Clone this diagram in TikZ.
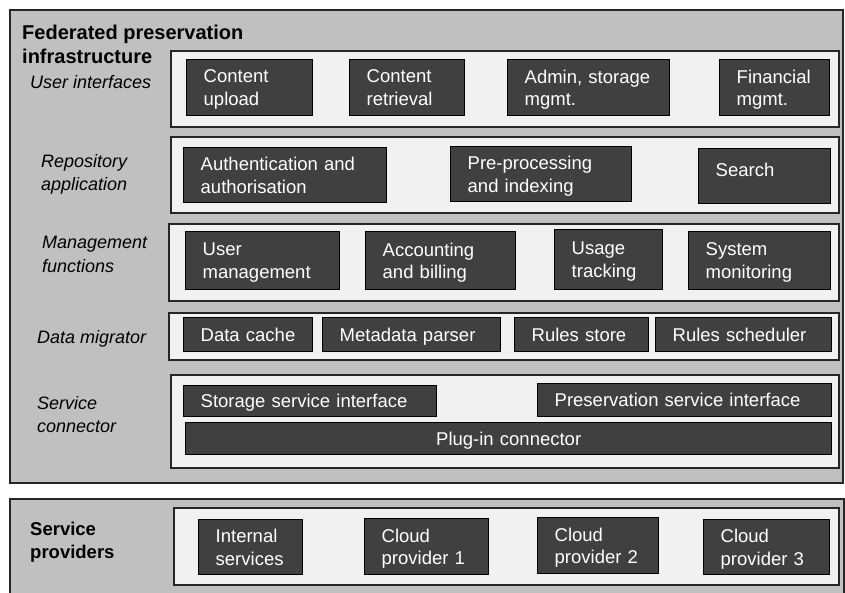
\documentclass[tikz,border=0pt]{standalone}
\usepackage{fontspec}
\setmainfont{Liberation Sans}
\definecolor{outerg}{RGB}{192,192,192}
\definecolor{bandg}{RGB}{241,241,241}
\definecolor{darkg}{RGB}{64,64,64}
\tikzset{
  dk/.style={draw=black, fill=darkg, line width=1.4pt, text=white,
    font=\fontsize{18.5}{22.5}\selectfont, align=left, inner xsep=17pt,
    inner ysep=0pt, anchor=north west, text depth=22.5pt},
  one/.style={text depth=0pt},
  bandbox/.style={draw=black!85, fill=bandg, line width=1.6pt, anchor=north west, inner sep=0pt},
  outerbox/.style={draw=black!85, fill=outerg, line width=1.8pt, anchor=north west, inner sep=0pt},
  lab/.style={font=\fontsize{18}{23.5}\selectfont\itshape, align=left, anchor=north west, inner sep=0pt},
  ttl/.style={font=\fontsize{20}{24}\selectfont\bfseries, align=left, anchor=north west, inner sep=0pt},
}
\newcommand\dbox[7][]{%
  \pgfmathsetmacro\bw{#5-#3-34}\pgfmathsetmacro\bh{#6-#4}%
  \node[dk,text width=\bw pt,minimum height=\bh pt,#1] (#2) at (#3,#4) {#7};}
\newcommand\rbox[6]{%
  \pgfmathsetmacro\bw{#5-#3}\pgfmathsetmacro\bh{#6-#4}%
  \node[#1,minimum width=\bw pt,minimum height=\bh pt] (#2) at (#3,#4) {};}
\begin{document}
\begin{tikzpicture}[x=1pt,y=-1pt]
\useasboundingbox (0,0) rectangle (845,592);
\clip (0,0) rectangle (845,592);
\fill[white] (0,0) rectangle (845,592);
% outer containers
\rbox{outerbox}{fed}{9}{9}{842}{482}
\rbox{outerbox}{prov}{9}{498}{843}{610}
% titles
\node[ttl] (fedtitle) at (22,24.5) {Federated preservation\\infrastructure};
\node[ttl, font=\fontsize{18.5}{23}\selectfont\bfseries] (provtitle) at (30,521.5) {Service\\providers};
% bands
\rbox{bandbox}{b1}{170}{50}{838}{126}
\rbox{bandbox}{b2}{170}{136}{838}{212}
\rbox{bandbox}{b3}{168}{223}{838}{300}
\rbox{bandbox}{b4}{168}{312}{838}{359}
\rbox{bandbox}{b5}{170}{374}{838}{467}
\rbox{bandbox}{b6}{173}{507}{838}{584}
% labels
\node[lab] (l1) at (30,75) {User interfaces};
\node[lab] (l2) at (41,154) {Repository\\application};
\node[lab] (l3) at (42,236) {Management\\functions};
\node[lab] (l4) at (37,330) {Data migrator};
\node[lab] (l5) at (37,396) {Service\\connector};
% row 1
\dbox{cu}{186}{59}{312}{115}{Content\\upload}
\dbox{cr}{349}{59}{464}{115}{Content\\retrieval}
\dbox{adm}{507}{59}{669}{115}{Admin, storage\\mgmt.}
\dbox{fin}{719}{59}{829}{115}{Financial\\mgmt.}
% row 2
\dbox{auth}{183}{147}{386}{202}{Authentication and\\authorisation}
\dbox{pre}{450}{146}{631}{201}{Pre-processing\\and indexing}
\dbox[text height=13pt,text depth=13pt]{srch}{698}{148}{830}{203}{Search}
% row 3
\dbox{um}{185}{231}{339}{289}{User\\management}
\dbox{acc}{365}{231}{515}{289}{Accounting\\and billing}
\dbox{ut}{554}{229}{662}{289}{Usage\\tracking}
\dbox{sm}{688}{231}{830}{289}{System\\monitoring}
% row 4
\dbox[one]{dc}{183}{317}{312}{351}{Data cache}
\dbox[one]{mp}{322}{317}{500}{351}{Metadata parser}
\dbox[one]{rs}{514}{317}{648}{351}{Rules store}
\dbox[one]{rsch}{655}{317}{831}{351}{Rules scheduler}
% row 5
\dbox[one]{ssi}{183}{385}{436}{416}{Storage service interface}
\dbox[one]{psi}{537}{383}{831}{416}{Preservation service interface}
\dbox[one,align=center]{plug}{185}{422}{831}{454}{Plug-in connector}
% providers
\dbox{int}{198}{519}{302}{574}{Internal\\services}
\dbox{cp1}{364}{518}{488}{574}{Cloud\\provider 1}
\dbox{cp2}{537}{517}{658}{573}{Cloud\\provider 2}
\dbox{cp3}{703}{519}{829}{574}{Cloud\\provider 3}
\end{tikzpicture}
\end{document}
